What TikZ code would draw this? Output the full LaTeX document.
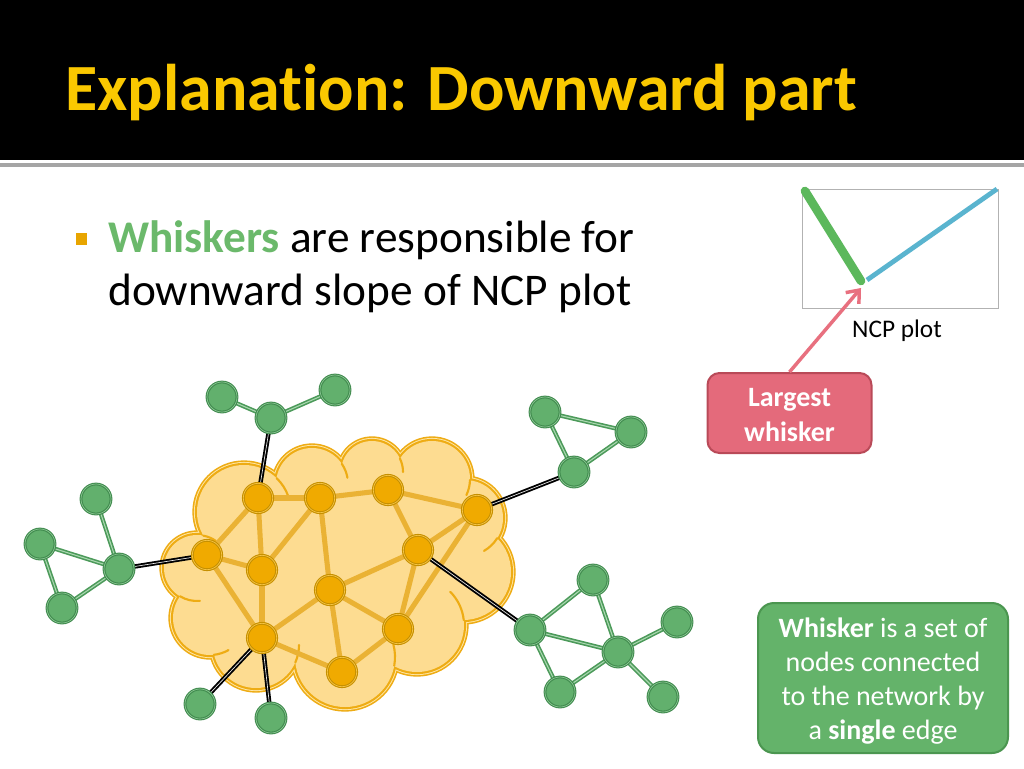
\documentclass[tikz,border=0pt]{standalone}
\usepackage{fontspec}
\setmainfont{Carlito}[Ligatures=NoCommon]
\usetikzlibrary{arrows.meta}
\definecolor{titleyellow}{RGB}{250,200,0}
\definecolor{rulegray}{RGB}{165,165,165}
\definecolor{bulletorange}{RGB}{232,165,0}
\definecolor{whiskgreen}{RGB}{107,185,107}
\definecolor{cloudfill}{RGB}{253,220,145}
\definecolor{cloudline}{RGB}{238,172,20}
\definecolor{cloudlight}{RGB}{255,231,168}
\definecolor{ofill}{RGB}{240,170,0}
\definecolor{oline}{RGB}{198,144,0}
\definecolor{oring}{RGB}{246,196,70}
\definecolor{oedge}{RGB}{234,178,52}
\definecolor{gfill}{RGB}{98,176,109}
\definecolor{gline}{RGB}{63,138,77}
\definecolor{gring}{RGB}{140,200,148}
\definecolor{gedge}{RGB}{76,154,90}
\definecolor{gedgein}{RGB}{170,216,176}
\definecolor{plotgreen}{RGB}{92,184,92}
\definecolor{plotblue}{RGB}{90,180,207}
\definecolor{pinkarrow}{RGB}{232,112,127}
\definecolor{pinkfill}{RGB}{228,106,123}
\definecolor{pinkline}{RGB}{185,74,88}
\definecolor{boxgreen}{RGB}{100,179,106}
\definecolor{boxgreenline}{RGB}{75,150,80}
\pgfdeclarelayer{backlayer}
\pgfdeclarelayer{cloudlayer}
\pgfdeclarelayer{edgelayer}
\pgfsetlayers{backlayer,cloudlayer,edgelayer,main}
\begin{document}
\begin{tikzpicture}[x=0.75pt,y=-0.75pt,
  onode/.style={circle,fill=ofill,draw=oline,double=oring,line width=0.8pt,double distance=0.5pt,minimum size=22pt,inner sep=0pt},
  gnode/.style={circle,fill=gfill,draw=gline,double=gring,line width=0.8pt,double distance=0.5pt,minimum size=22.5pt,inner sep=0pt},
  oedgest/.style={draw=oedge,line width=3.8pt},
  gedgest/.style={draw=gedge,double=gedgein,line width=1.2pt,double distance=0.8pt},
  bedgest/.style={draw=black,double=white!85!gray,line width=1.4pt,double distance=0.5pt},
  hook/.style={draw=cloudline,line width=1.6pt,line cap=round},
  bodytext/.style={anchor=base west,inner sep=0pt,font=\fontsize{34}{40}\selectfont}
]
\useasboundingbox (0,0) rectangle (1024,768);
\begin{pgfonlayer}{backlayer}
\fill[white] (0,0) rectangle (1024,768);
\fill[black] (0,0) rectangle (1024,160);
\fill[rulegray] (0,163) rectangle (1024,167);
\end{pgfonlayer}
\node[anchor=base west,inner sep=0pt,text=titleyellow,font=\fontsize{49.5}{60}\selectfont\bfseries] (title) at (65,110) {Explanation: Downward part};
\node[fill=bulletorange,minimum width=8.25pt,minimum height=9pt,inner sep=0pt] (bullet) at (81.5,239) {};
\node[bodytext] (line1) at (108,252) {\textcolor{whiskgreen}{\bfseries Whiskers} are responsible for};
\node[bodytext] (line2) at (108,305) {downward slope of NCP plot};

% cloud
\begin{pgfonlayer}{cloudlayer}
\def\cloudlist{244/512/47,312/484/36,372/472/31,432/479/38,465/518/38,463/572/48,417/625/47,345/657/50,256/645/43,210/618/37,197/568/33}
\foreach \cx/\cy/\r in \cloudlist
  \draw[cloudline,line width=7pt] (\cx,\cy) circle[radius=\r*0.75pt];
\foreach \cx/\cy/\r in \cloudlist
  \draw[cloudlight,line width=4.6pt] (\cx,\cy) circle[radius=\r*0.75pt];
\foreach \cx/\cy/\r in \cloudlist
  \draw[cloudline,line width=3.2pt] (\cx,\cy) circle[radius=\r*0.75pt];
\foreach \cx/\cy/\r in \cloudlist
  \fill[cloudfill] (\cx,\cy) circle[radius=\r*0.75pt];
\fill[cloudfill] (244,512) -- (312,484) -- (372,472) -- (432,479) -- (465,518) -- (463,572) -- (417,625) -- (345,657) -- (256,645) -- (210,618) -- (197,568) -- cycle;
% inner arcs of the cloud outline
\foreach \cx/\cy/\r/\a/\b in {244/512/47/-46/-20,312/484/36/-34/-10,372/472/31/-26/0,432/479/38/1.5/25,465/518/38/32/60,417/625/47/-6/-45,345/657/50/10/-15,256/645/43/24/0,210/618/37/84/60,197/568/33/121/85,197/568/33/-79/-55}
  \draw[hook] (\cx,\cy) ++(\a:\r) arc[start angle=\a,end angle=\b,radius=\r];
\end{pgfonlayer}

% core nodes
\node[onode] (A) at (258,498) {};
\node[onode] (B) at (320,498) {};
\node[onode] (C) at (388,490) {};
\node[onode] (D) at (477,510) {};
\node[onode] (E) at (207,555) {};
\node[onode] (F) at (262,570) {};
\node[onode] (G) at (418,550) {};
\node[onode] (H) at (330,590) {};
\node[onode] (I) at (262,638) {};
\node[onode] (J) at (398,629) {};
\node[onode] (K) at (342,672) {};
% whisker nodes
\node[gnode] (T1) at (222,397) {};
\node[gnode] (T2) at (271,418) {};
\node[gnode] (T3) at (335,390) {};
\node[gnode] (L1) at (96,499) {};
\node[gnode] (L2) at (40,544) {};
\node[gnode] (L3) at (62,608) {};
\node[gnode] (L4) at (119,569) {};
\node[gnode] (B1) at (200,704) {};
\node[gnode] (B2) at (271,718) {};
\node[gnode] (R1) at (545,412) {};
\node[gnode] (R2) at (631,432) {};
\node[gnode] (R3) at (574,472) {};
\node[gnode] (S1) at (530,630) {};
\node[gnode] (S2) at (593,580) {};
\node[gnode] (S3) at (677,622) {};
\node[gnode] (S4) at (618,652) {};
\node[gnode] (S5) at (560,692) {};
\node[gnode] (S6) at (663,697) {};

\begin{pgfonlayer}{edgelayer}
\foreach \u/\v in {A/B,B/C,C/D,A/E,A/F,B/F,B/H,E/F,E/I,F/I,C/G,D/G,G/H,D/J,G/J,H/I,H/J,H/K,I/K,J/K}
  \draw[oedgest] (\u) -- (\v);
\foreach \u/\v in {T2/A,L4/E,I/B1,I/B2,R3/D,G/S1}
  \draw[bedgest] (\u) -- (\v);
\foreach \u/\v in {T1/T2,T2/T3,L1/L4,L2/L4,L2/L3,L3/L4,R1/R2,R1/R3,R2/R3,S1/S2,S1/S4,S1/S5,S2/S4,S4/S3,S4/S5,S4/S6}
  \draw[gedgest] (\u) -- (\v);
\end{pgfonlayer}

% NCP plot
\node[draw=black!30,line width=0.6pt,minimum width=147pt,minimum height=89.25pt,inner sep=0pt] (plotbox) at (900,248.5) {};
\coordinate (ga) at (805,191);
\coordinate (gb) at (861,281);
\coordinate (ba) at (867,280);
\coordinate (bb) at (997,189);
\draw[plotgreen,line width=6.5pt,line cap=round] (ga) -- (gb);
\draw[plotblue,line width=3.6pt] (ba) -- (bb);
\node[font=\fontsize{19}{23}\selectfont,inner sep=0pt] (ncplabel) at (897,331) {NCP plot};

\node[draw=pinkline,fill=pinkfill,line width=1.5pt,rounded corners=9pt,minimum width=123pt,minimum height=60pt,align=center,text=white,font=\fontsize{21}{26}\selectfont\bfseries,inner sep=0pt] (largest) at (789.5,413) {\rule{0pt}{16.5pt}Largest\\whisker};
\coordinate (tip) at (861,288);
\draw[pinkarrow,line width=2.6pt,-{Straight Barb[length=8pt,width=13pt]}] (largest.north) -- (tip);

\node[draw=boxgreenline,fill=boxgreen,line width=1.5pt,rounded corners=12pt,minimum width=187.5pt,minimum height=112.5pt,align=center,text=white,font=\fontsize{21}{25.5}\selectfont,inner sep=0pt] (defbox) at (883,678) {\rule{0pt}{20pt}\textbf{Whisker} is a set of\\nodes connected\\to the network by\\a \textbf{single} edge};
\end{tikzpicture}
\end{document}
